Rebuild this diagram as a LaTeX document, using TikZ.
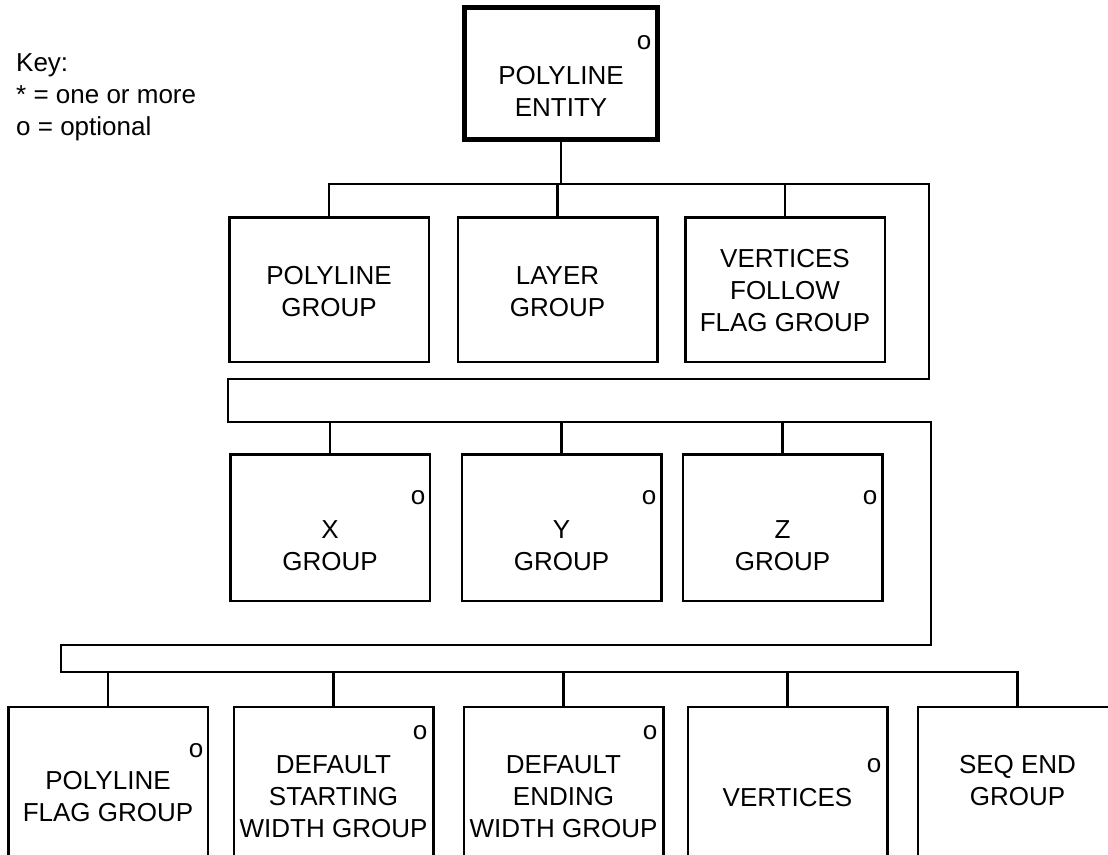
\documentclass[tikz,border=0pt]{standalone}
\usepackage{fontspec}
\setmainfont{Liberation Sans}
\begin{document}
\begin{tikzpicture}[x=1pt,y=-1pt,
  ln/.style={line width=2.5pt, line join=miter, line cap=rect},
  box/.style={draw, line width=2.5pt, minimum width=199.5pt, inner sep=0pt},
  topbox/.style={draw, line width=5pt, minimum width=193pt, minimum height=132pt, inner sep=0pt},
  txt/.style={font=\fontsize{26}{32}\selectfont, align=center, inner sep=0pt},
  opt/.style={font=\fontsize{26}{32}\selectfont, inner sep=0pt}]
\useasboundingbox (0,0) rectangle (1108,854);
\clip (0,0) rectangle (1108,854);
% key
\node[txt, align=left, anchor=north west] (key) at (16,48.6) {\strut Key:\\\strut * = one or more\\\strut o = optional};
% top box
\node[topbox] (top) at (561,73.5) {};
\node[txt] (ttop) at (561,94) {\strut POLYLINE\\\strut ENTITY};
\node[opt] (otop) at (644,43) {o};
% row 1
\node[box, minimum height=144.5pt] (r1a) at (329,289.5) {};
\node[box, minimum height=144.5pt] (r1b) at (557.5,289.5) {};
\node[box, minimum height=144.5pt] (r1c) at (785,289.5) {};
\node[txt] (t1a) at (329,294) {\strut POLYLINE\\\strut GROUP};
\node[txt] (t1b) at (557.5,294) {\strut LAYER\\\strut GROUP};
\node[txt] (t1c) at (785,293) {\strut VERTICES\\\strut FOLLOW\\\strut FLAG GROUP};
% row 2
\node[box, minimum height=146.5pt] (r2a) at (330,527.5) {};
\node[box, minimum height=146.5pt] (r2b) at (561.5,527.5) {};
\node[box, minimum height=146.5pt] (r2c) at (782.5,527.5) {};
\node[txt] (t2a) at (330,548) {\strut X\\\strut GROUP};
\node[txt] (t2b) at (561.5,548) {\strut Y\\\strut GROUP};
\node[txt] (t2c) at (782.5,548) {\strut Z\\\strut GROUP};
\node[opt] (o2a) at (418,498) {o};
\node[opt] (o2b) at (649,498) {o};
\node[opt] (o2c) at (870,498) {o};
% row 3
\node[box, minimum height=200pt] (r3a) at (108,807) {};
\node[box, minimum height=200pt] (r3b) at (333.5,807) {};
\node[box, minimum height=200pt] (r3c) at (563.5,807) {};
\node[box, minimum height=200pt] (r3d) at (787.5,807) {};
\node[box, minimum height=200pt] (r3e) at (1017.5,807) {};
\node[txt] (t3a) at (108,799.5) {\strut POLYLINE\\\strut FLAG GROUP};
\node[txt] (t3b) at (333.5,799) {\strut DEFAULT\\\strut STARTING\\\strut WIDTH GROUP};
\node[txt] (t3c) at (563.5,799) {\strut DEFAULT\\\strut ENDING\\\strut WIDTH GROUP};
\node[txt] (t3d) at (787.5,800) {\strut VERTICES};
\node[txt] (t3e) at (1017.5,783.5) {\strut SEQ END\\\strut GROUP};
\node[opt] (o3a) at (196,751) {o};
\node[opt] (o3b) at (420,733) {o};
\node[opt] (o3c) at (650,733) {o};
\node[opt] (o3d) at (874,766) {o};
% bus corners
\coordinate (c1) at (929,184);
\coordinate (c2) at (929,379);
\coordinate (c3) at (228,379);
\coordinate (c4) at (228,422);
\coordinate (c5) at (931,422);
\coordinate (c6) at (931,645);
\coordinate (c7) at (61,645);
\coordinate (c8) at (61,672);
\draw[ln] (r1a.north |- c1) -- (c1) -- (c2) -- (c3) -- (c4) -- (c5) -- (c6) -- (c7) -- (c8) -- (r3e.north |- c8);
% stems
\draw[ln] (top.south) -- (top.south |- c1);
\foreach \n in {r1a,r1b,r1c} \draw[ln] (\n.north) -- (\n.north |- c1);
\foreach \n in {r2a,r2b,r2c} \draw[ln] (\n.north) -- (\n.north |- c4);
\foreach \n in {r3a,r3b,r3c,r3d,r3e} \draw[ln] (\n.north) -- (\n.north |- c8);
\end{tikzpicture}
\end{document}
